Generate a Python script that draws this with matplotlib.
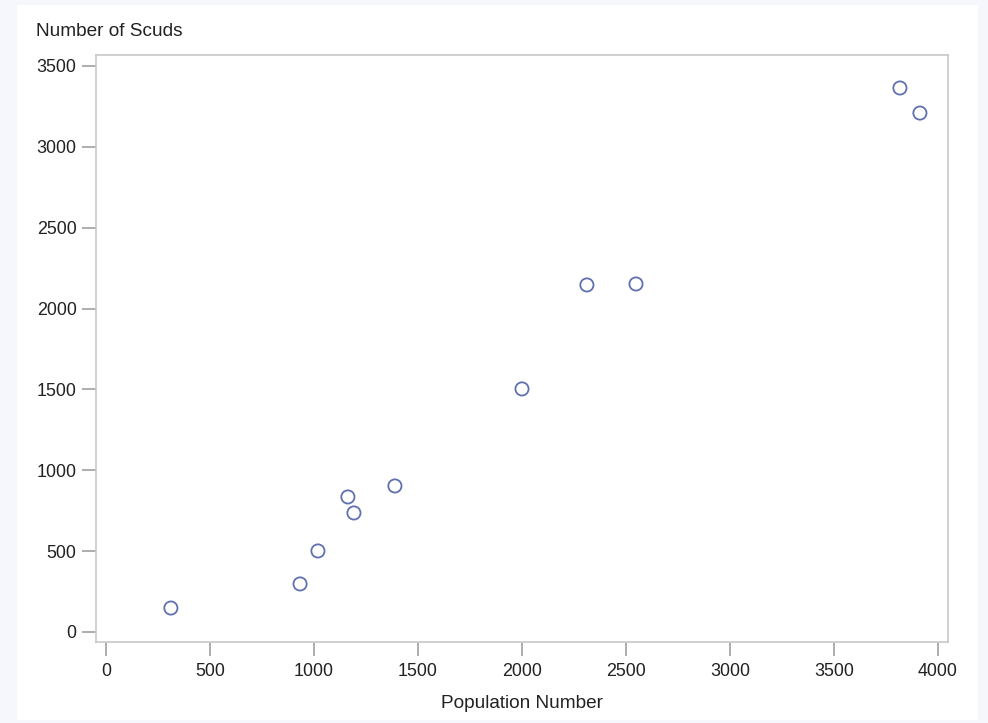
import matplotlib
matplotlib.use("Agg")
import matplotlib.pyplot as plt
from matplotlib.patches import Rectangle

population = [312, 933, 1019, 1163, 1192, 1389, 2000, 2312, 2548, 3817, 3913]
scuds = [148, 297, 501, 835, 736, 903, 1503, 2146, 2152, 3364, 3209]
x_ticks = [0, 500, 1000, 1500, 2000, 2500, 3000, 3500, 4000]
y_ticks = [0, 500, 1000, 1500, 2000, 2500, 3000, 3500]

plt.rcParams['font.family'] = ['Liberation Sans', 'DejaVu Sans']

W, H = 988, 723
fig = plt.figure(figsize=(W/100, H/100), dpi=100, facecolor='#f5f7fc')
fig.patches.append(Rectangle((17/W, 3/H), (978-17)/W, (718-3)/H, transform=fig.transFigure,
                             facecolor='white', edgecolor='none', zorder=-5))

ax = fig.add_axes([96/W, 1-642/H, (948-96)/W, (642-55)/H])
ax.set_zorder(5)
ax.set_facecolor('white')
ax.scatter(population, scuds, s=90, facecolors='none', edgecolors='#6070b0', linewidths=1.3, zorder=3)

ax.set_xlim(-48, 4048)
ax.set_ylim(-62, 3568)
ax.set_xticks(x_ticks)
ax.set_yticks(y_ticks)
for s in ax.spines.values():
    s.set_color('#c8c8c8')
    s.set_linewidth(1.2)
ax.tick_params(axis='both', direction='out', length=10, width=1.2, color='#a0a0a0',
               labelsize=12.9, labelcolor='#222222')
ax.tick_params(axis='x', pad=5)
ax.tick_params(axis='y', pad=4)
ax.set_xlabel('Population Number', fontsize=13.7, color='#222222', labelpad=11)
fig.text(36/W, 1-31/H, 'Number of Scuds', fontsize=13.7, color='#222222', ha='left', va='center', zorder=6)

fig.savefig('out.png', dpi=100, facecolor=fig.get_facecolor())
